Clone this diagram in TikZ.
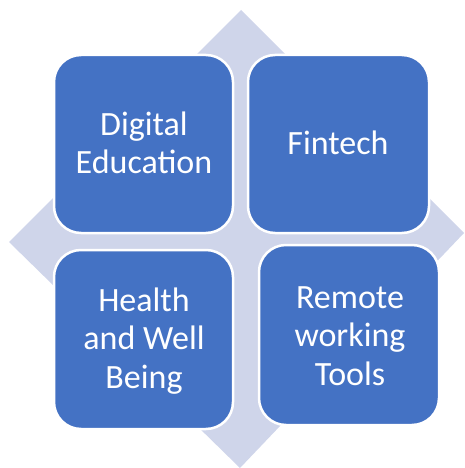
\documentclass[tikz,border=0pt]{standalone}
\usepackage{fontspec}
\setmainfont{Carlito}
\begin{document}
\begin{tikzpicture}[x=1pt,y=-1pt,
  tile/.style={draw=white, line width=2.5pt, fill=tileblue, rounded corners=27pt},
  label/.style={text=white, align=center, font=\fontsize{34}{38.5}\selectfont, inner sep=0pt}]
\definecolor{tileblue}{HTML}{4472C4}
\definecolor{diamondfill}{HTML}{CFD5EA}
\useasboundingbox (0,0) rectangle (464,468);
% background diamond
\fill[diamondfill] (241,10) -- (464,233) -- (240,468) -- (9,242) -- cycle;
% four tiles
\draw[tile] (54,55) rectangle (233,233);
\draw[tile] (248,55) rectangle (429,233);
\draw[tile] (54,250) rectangle (233,429);
\draw[tile] (259,245) rectangle (439,425);
% labels
\node[label] (de) at (144,143) {Digital\\Education};
\node[label] (ft) at (338,143) {Fintech};
\node[label] (hw) at (144,341) {Health\\and Well\\Being};
\node[label] (rw) at (350,336) {Remote\\working\\Tools};
\end{tikzpicture}
\end{document}
